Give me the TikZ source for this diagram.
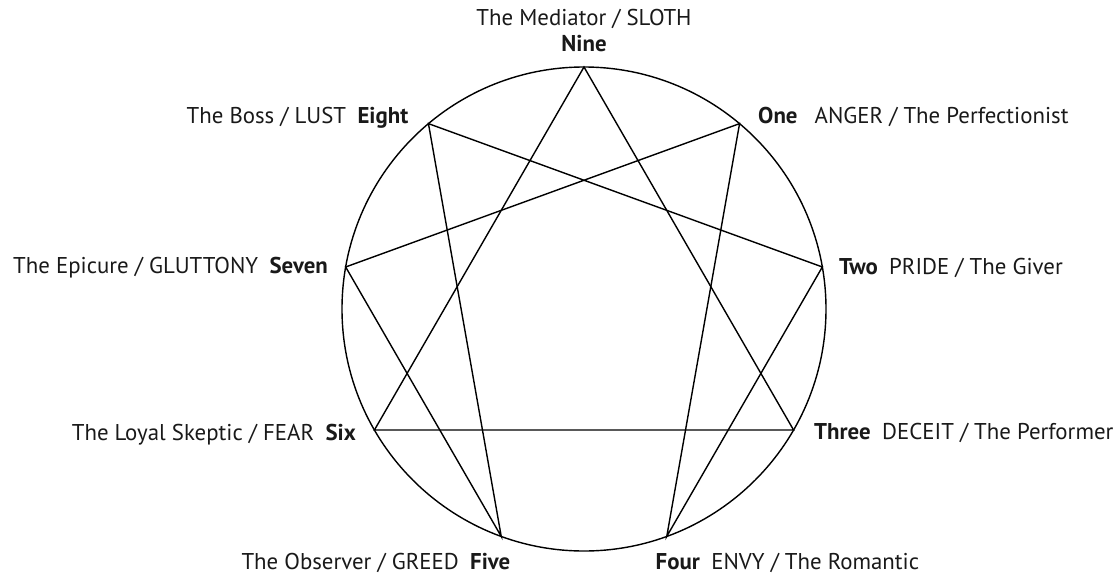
\documentclass[tikz,border=0pt]{standalone}
\usepackage{fontspec}
\setmainfont{PT Sans}
\begin{document}
\begin{tikzpicture}[scale=1.0, line width=0.8pt,
  lbl/.style={font=\fontsize{13}{15}\selectfont, text=black!90, inner sep=0pt}]
\useasboundingbox (-11.68,-5.36) rectangle (10.7,6.18);

\draw (0,0) circle (4.84);

\coordinate (nine) at (90:4.84);
\coordinate (one) at (50:4.84);
\coordinate (two) at (10:4.84);
\coordinate (three) at (-30:4.84);
\coordinate (four) at (-70:4.84);
\coordinate (five) at (-110:4.84);
\coordinate (six) at (-150:4.84);
\coordinate (seven) at (170:4.84);
\coordinate (eight) at (130:4.84);

% triangle
\draw (nine) -- (three) -- (six) -- cycle;
% hexad
\draw (one) -- (four) -- (two) -- (eight) -- (five) -- (seven) -- cycle;

\node[lbl, anchor=base] (mediator) at (0,5.66) {The Mediator / SLOTH};
\node[lbl, anchor=base] (ninelbl) at (0,5.15) {\textbf{Nine}};

\node[lbl, anchor=base east] (eightlbl) at (-3.5,3.71) {The Boss / LUST\enspace\textbf{Eight}};
\node[lbl, anchor=base west] (onelbl) at (3.47,3.71) {\textbf{One}\hspace{0.75em}ANGER / The Perfectionist};

\node[lbl, anchor=base east] (sevenlbl) at (-5.11,0.71) {The Epicure / GLUTTONY\enspace\textbf{Seven}};
\node[lbl, anchor=base west] (twolbl) at (5.09,0.70) {\textbf{Two}\enspace PRIDE / The Giver};

\node[lbl, anchor=base east] (sixlbl) at (-4.55,-2.62) {The Loyal Skeptic / FEAR\enspace\textbf{Six}};
\node[lbl, anchor=base west] (threelbl) at (4.59,-2.6) {\textbf{Three}\enspace DECEIT / The Performer};

\node[lbl, anchor=base east] (fivelbl) at (-1.46,-5.21) {The Observer / GREED\enspace\textbf{Five}};
\node[lbl, anchor=base west] (fourlbl) at (1.42,-5.2) {\textbf{Four}\enspace ENVY / The Romantic};
\end{tikzpicture}
\end{document}
